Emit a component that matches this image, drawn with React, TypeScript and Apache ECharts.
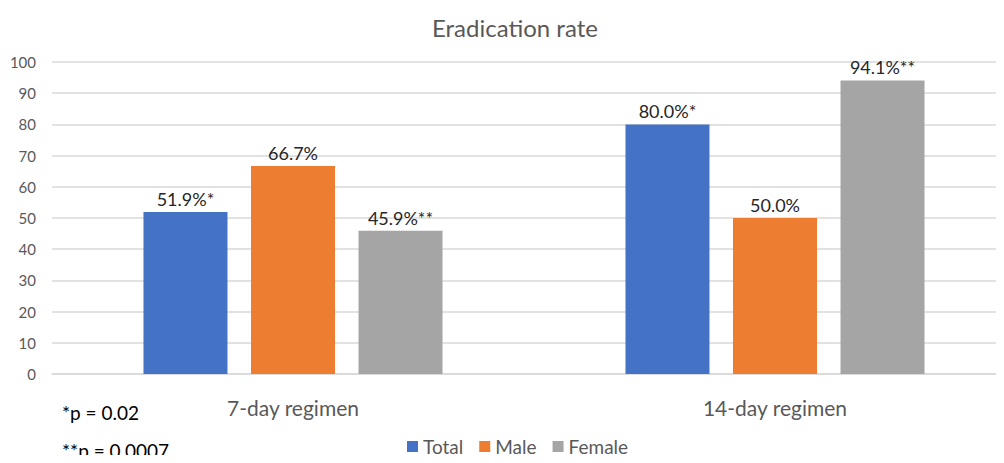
import React, { useEffect, useRef } from "react";
import * as echarts from "echarts";

const categories = ["7-day regimen", "14-day regimen"];
const totalValues = [51.9, 80.0];
const maleValues = [66.7, 50.0];
const femaleValues = [45.9, 94.1];
const totalSuffix = ["*", "*"];
const maleSuffix = ["", ""];
const femaleSuffix = ["**", "**"];
const footnotes = ["*p = 0.02", "**p = 0.0007"];

const FONT = "Lato, 'Open Sans', sans-serif";

export default function App() {
  const ref = useRef<HTMLDivElement>(null);
  useEffect(() => {
    if (!ref.current) return;
    const chart = echarts.init(ref.current, undefined, { renderer: "svg" });
    const mk = (name: string, data: number[], suffix: string[], color: string) => ({
      name,
      type: "bar",
      data,
      barWidth: 84,
      barGap: "28%",
      itemStyle: { color },
      label: {
        show: true,
        position: "top",
        distance: 4,
        color: "#262626",
        fontSize: 18,
        fontFamily: FONT,
        formatter: (p: any) => p.value.toFixed(1) + "%" + suffix[p.dataIndex],
      },
    });
    chart.setOption({
      animation: false,
      title: {
        text: "Eradication rate",
        left: 427,
        top: 10,
        textStyle: { color: "#595959", fontSize: 24, fontWeight: "normal", fontFamily: FONT },
      },
      legend: {
        bottom: 2,
        left: 402,
        itemWidth: 11,
        itemHeight: 11,
        itemGap: 16,
        icon: "rect",
        textStyle: { color: "#595959", fontSize: 19, fontFamily: FONT },
      },
      grid: {
        left: 52,
        width: 964,
        top: 62,
        bottom: 89,
        containLabel: false,
        outerBoundsMode: "none",
      },
      xAxis: {
        type: "category",
        data: categories,
        axisLine: { show: true, lineStyle: { color: "#d9d9d9", width: 1.5 } },
        axisTick: { show: false },
        axisLabel: { color: "#595959", fontSize: 21, fontFamily: FONT, margin: 23 },
      },
      yAxis: {
        type: "value",
        min: 0,
        max: 100,
        interval: 10,
        axisLine: { show: false },
        axisTick: { show: false },
        splitLine: { lineStyle: { color: "#d9d9d9", width: 1.5 } },
        axisLabel: { color: "#595959", fontSize: 15, fontFamily: FONT, margin: 16 },
      },
      graphic: [
        {
          type: "text",
          left: 62,
          top: 403,
          style: { text: footnotes[0], fill: "#000", fontSize: 19, fontFamily: FONT },
        },
        {
          type: "text",
          left: 62,
          top: 441,
          style: { text: footnotes[1], fill: "#000", fontSize: 19, fontFamily: FONT },
        },
      ],
      series: [
        mk("Total", totalValues, totalSuffix, "#4472C4"),
        mk("Male", maleValues, maleSuffix, "#ED7D31"),
        mk("Female", femaleValues, femaleSuffix, "#A5A5A5"),
      ],
    });
    return () => chart.dispose();
  }, []);
  return <div ref={ref} style={{ width: 1004, height: 463, margin: -8 }} />;
}
